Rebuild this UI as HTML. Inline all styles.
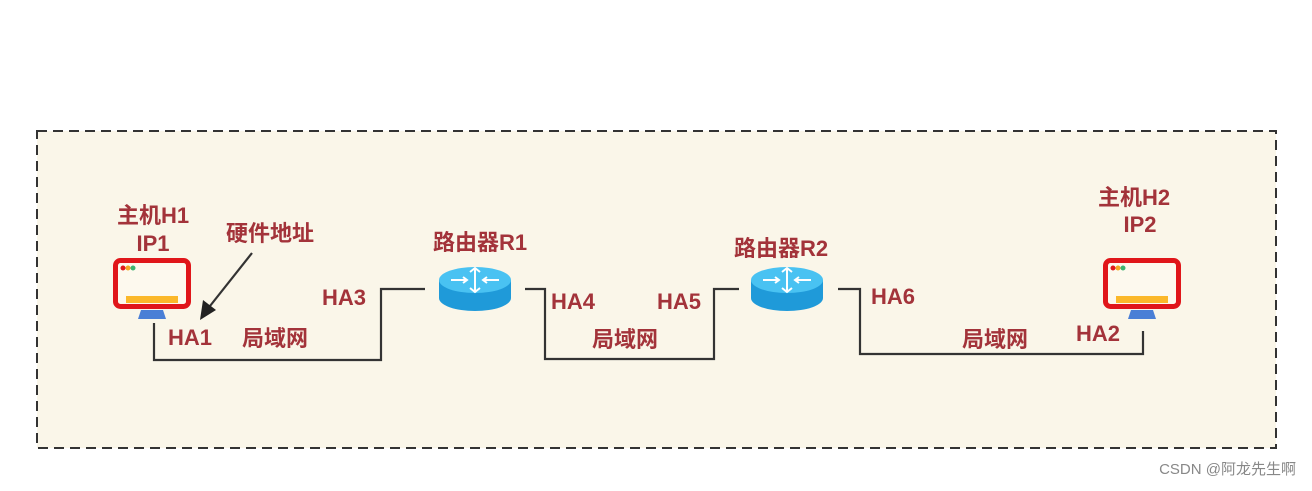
<!DOCTYPE html>
<html><head><meta charset="utf-8"><style>
body{margin:0;background:#fff;width:1312px;height:486px;overflow:hidden}
text{font-family:"Liberation Sans","Noto Sans CJK SC",sans-serif;font-weight:bold;fill:#a3333a;font-size:22px}
</style></head><body>
<svg width="1312" height="486" xmlns="http://www.w3.org/2000/svg">
<defs>
<g id="mon"><rect x="2.5" y="2.5" width="73" height="46" rx="5" fill="#fdf9ee" stroke="#e0161a" stroke-width="5"/><rect x="13" y="38" width="52" height="7" fill="#fbb82a"/><circle cx="10" cy="10" r="2.5" fill="#e0161a"/><circle cx="15" cy="10" r="2.5" fill="#f5a623"/><circle cx="20" cy="10" r="2.5" fill="#3cb371"/><path d="M28,52 L50,52 L53,61 L25,61 z" fill="#4a7fd6"/></g>
<g id="rt"><path d="M0,14 L0,32 A36,13 0 0 0 72,32 L72,14 z" fill="#1f9ad9"/><ellipse cx="36" cy="14" rx="36" ry="13" fill="#49c2f2"/><g stroke="#fff" stroke-width="2" fill="none"><path d="M36,2 V26 M31,6 L36,2 L41,6 M31,22 L36,26 L41,22 M12,14 H28 M24,11 L28,14 L24,17 M60,14 H44 M48,11 L44,14 L48,17"/></g></g>
</defs>
<rect x="37" y="131" width="1239" height="317" fill="#faf6e9" stroke="#333" stroke-width="2" stroke-dasharray="10,6"/>
<use href="#mon" x="113" y="258"/>
<use href="#mon" x="1103" y="258"/>
<use href="#rt" x="439" y="266"/>
<use href="#rt" x="751" y="266"/>
<g fill="none" stroke="#333" stroke-width="2.2">
<path d="M154,323 V360 H381 V289 H425"/>
<path d="M525,289 H545 V359 H714 V289 H739"/>
<path d="M838,289 H860 V354 H1143 V331"/>
<line x1="252" y1="253" x2="210" y2="306"/>
</g>
<path d="M200,320 L203,300 L216,310 z" fill="#222"/>
<text x="153" y="223" text-anchor="middle">主机H1</text>
<text x="153" y="251" text-anchor="middle">IP1</text>
<text x="270" y="241" text-anchor="middle">硬件地址</text>
<text x="480" y="250" text-anchor="middle">路由器R1</text>
<text x="781" y="256" text-anchor="middle">路由器R2</text>
<text x="1134" y="205" text-anchor="middle">主机H2</text>
<text x="1140" y="232" text-anchor="middle">IP2</text>
<text x="344" y="305" text-anchor="middle">HA3</text>
<text x="573" y="309" text-anchor="middle">HA4</text>
<text x="679" y="309" text-anchor="middle">HA5</text>
<text x="893" y="304" text-anchor="middle">HA6</text>
<text x="190" y="345" text-anchor="middle">HA1</text>
<text x="1098" y="341" text-anchor="middle">HA2</text>
<text x="275" y="346" text-anchor="middle">局域网</text>
<text x="625" y="347" text-anchor="middle">局域网</text>
<text x="995" y="347" text-anchor="middle">局域网</text>
<text x="1296" y="474" text-anchor="end" style="font-weight:normal;fill:#888;font-size:15px">CSDN @阿龙先生啊</text>
</svg>
</body></html>
